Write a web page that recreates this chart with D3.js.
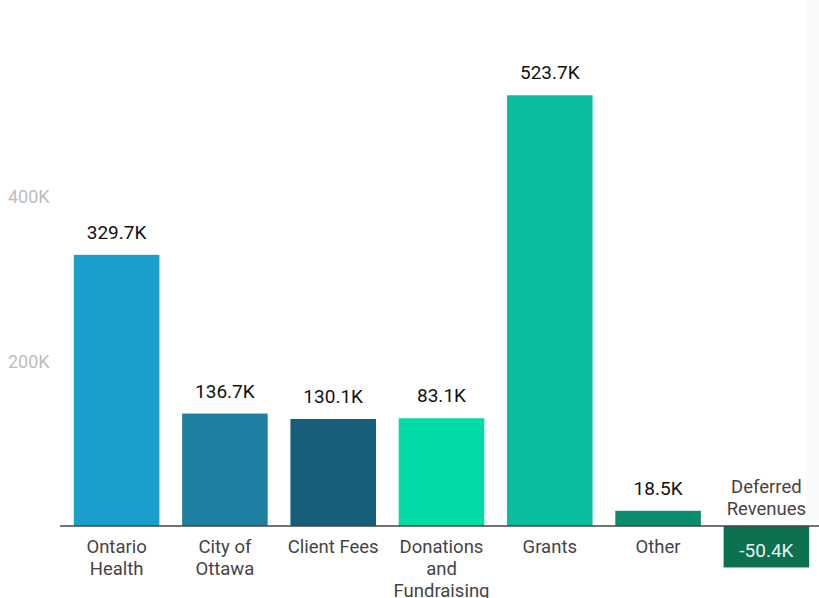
<!DOCTYPE html>
<html>
<head>
<meta charset="utf-8">
<script src="https://cdn.jsdelivr.net/npm/d3@7"></script>
<style>
  body { margin: 0; background: #fff; }
  text { font-family: Roboto, "Noto Sans", sans-serif; }
</style>
</head>
<body>
<div id="chart-container"></div>
<script>
/* DATA */
const categories = [
  ["Ontario", "Health"],
  ["City of", "Ottawa"],
  ["Client Fees"],
  ["Donations", "and", "Fundraising"],
  ["Grants"],
  ["Other"],
  ["Deferred", "Revenues"]
];
// bar heights as drawn in the picture
const barValues = [329700, 136700, 130100, 131000, 523700, 18500, -50400];
// printed value labels
const valueLabels = ["329.7K", "136.7K", "130.1K", "83.1K", "523.7K", "18.5K", "-50.4K"];
const barColors = ["#1a9fcc", "#1f7fa0", "#175e7a", "#00dba6", "#0bbd9f", "#0a8c6e", "#0d7050"];
const yTicks = [200000, 400000];

/* CONSTANTS */
const width = 819,
  height = 598;

const svg = d3.select("#chart-container")
  .append("svg")
  .attr("width", width)
  .attr("height", height);

// faint panel on the right edge
svg.append("rect")
  .attr("x", 806).attr("y", 0)
  .attr("width", 13).attr("height", 520)
  .attr("fill", "#fafafa");

const xScale = d3.scaleBand()
  .domain(d3.range(categories.length))
  .range([63, 820])
  .paddingInner(0.21)
  .paddingOuter(0.1);

const yScale = d3.scaleLinear()
  .domain([0, 400000])
  .range([526, 197]);

// y axis labels only
const yAxis = d3.axisLeft(yScale)
  .tickValues(yTicks)
  .tickFormat(d => d3.format(".0s")(d).replace("k", "K"))
  .tickSize(0);

const yAxisGroup = svg.append("g")
  .attr("transform", "translate(52,0)")
  .call(yAxis);
yAxisGroup.select(".domain").remove();
yAxisGroup.selectAll("text")
  .attr("x", -44)
  .attr("text-anchor", "start")
  .attr("fill", "#bdbdbd")
  .attr("font-size", 18)
  .attr("font-family", "Roboto, sans-serif");

// bars
svg.selectAll(".bar")
  .data(barValues)
  .join("rect")
  .attr("class", "bar")
  .attr("x", (d, i) => xScale(i))
  .attr("width", xScale.bandwidth())
  .attr("y", d => yScale(Math.max(0, d)))
  .attr("height", d => Math.abs(yScale(d) - yScale(0)))
  .attr("fill", (d, i) => barColors[i]);

// baseline
svg.append("line")
  .attr("x1", 60).attr("x2", width)
  .attr("y1", yScale(0)).attr("y2", yScale(0))
  .attr("stroke", "#444")
  .attr("stroke-width", 1.5);

// value labels
svg.selectAll(".value-label")
  .data(barValues)
  .join("text")
  .attr("class", "value-label")
  .attr("x", (d, i) => xScale(i) + xScale.bandwidth() / 2)
  .attr("y", d => d >= 0 ? yScale(d) - 16 : yScale(0) + 31)
  .attr("text-anchor", "middle")
  .attr("font-size", 19)
  .attr("fill", d => d >= 0 ? "#111" : "#e8f3ee")
  .text((d, i) => valueLabels[i]);

// category labels (above the axis for negative bars)
const catGroups = svg.selectAll(".cat-label")
  .data(categories)
  .join("text")
  .attr("class", "cat-label")
  .attr("text-anchor", "middle")
  .attr("font-size", 18.5)
  .attr("fill", "#444")
  .attr("transform", (d, i) => {
    const cx = xScale(i) + xScale.bandwidth() / 2;
    const cy = barValues[i] >= 0 ? 553 : 493;
    return `translate(${cx},${cy})`;
  });

catGroups.selectAll("tspan")
  .data(d => d)
  .join("tspan")
  .attr("x", 0)
  .attr("dy", (d, i) => i === 0 ? 0 : 22)
  .text(d => d);
</script>
</body>
</html>
